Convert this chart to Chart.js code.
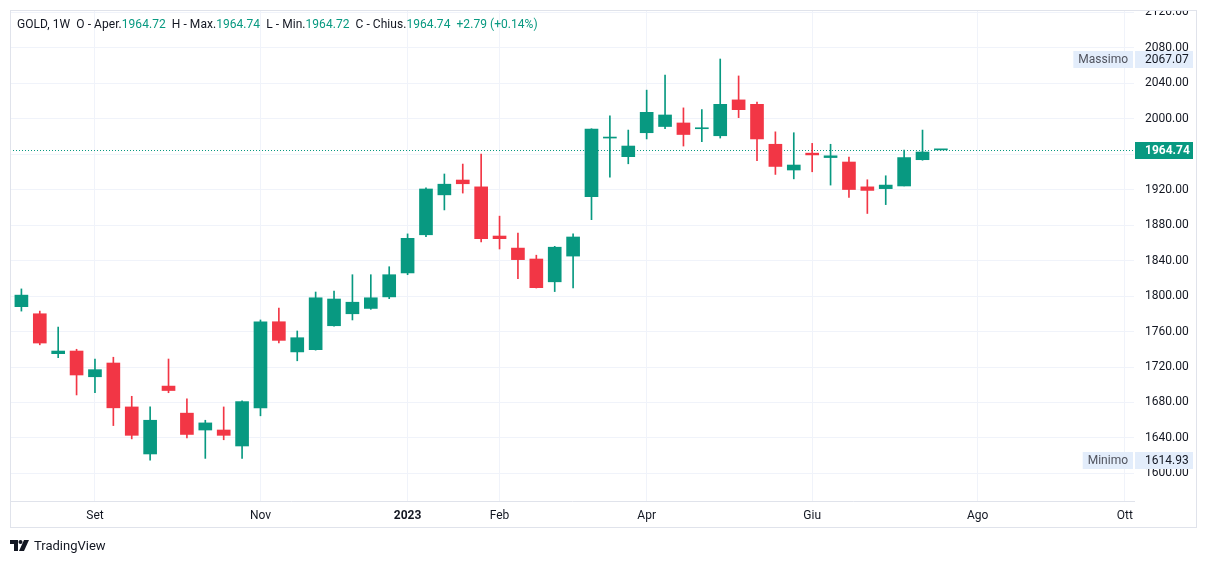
<!DOCTYPE html>
<html>
<head>
<meta charset="utf-8">
<script src="https://cdn.jsdelivr.net/npm/chart.js@4/dist/chart.umd.min.js"></script>
<style>
  html, body { margin: 0; padding: 0; background: #fff; }
  #wrap { position: relative; width: 1209px; height: 564px; }
  #legend {
    position: absolute; left: 17px; top: 17px;
    font: 12px Roboto, sans-serif; color: #131722; white-space: pre;
    letter-spacing: 0.05px;
  }
  #legend .v { color: #089981; }
  #brand {
    position: absolute; left: 10px; top: 538px;
    font: 13px Roboto, sans-serif; color: #131722;
    display: flex; align-items: center;
  }
  #brand svg { margin-right: 5px; }
</style>
</head>
<body>
<div id="wrap">
  <canvas id="chart" width="1209" height="564"></canvas>
  <div id="legend">GOLD, 1W  O - Aper.<span class="v">1964.72</span>  H - Max.<span class="v">1964.74</span>  L - Min.<span class="v">1964.72</span>  C - Chius.<span class="v">1964.74</span>  <span class="v">+2.79 (+0.14%)</span></div>
  <div id="brand">
    <svg width="19" height="11" viewBox="0 0 19 11">
      <path d="M0 0h8v11H4V4H0z" fill="#131722"/>
      <circle cx="10.5" cy="2" r="2" fill="#131722"/>
      <path d="M14 0h5l-5 11H9z" fill="#131722"/>
    </svg>
    <span>TradingView</span>
  </div>
</div>
<script>
// weekly bars, GOLD 1W (week start dates)
const weeks = [
  '2022-08-08', '2022-08-15', '2022-08-22', '2022-08-29', '2022-09-05', '2022-09-12',
  '2022-09-19', '2022-09-26', '2022-10-03', '2022-10-10', '2022-10-17', '2022-10-24',
  '2022-10-31', '2022-11-07', '2022-11-14', '2022-11-21', '2022-11-28', '2022-12-05',
  '2022-12-12', '2022-12-19', '2022-12-26', '2023-01-02', '2023-01-09', '2023-01-16',
  '2023-01-23', '2023-01-30', '2023-02-06', '2023-02-13', '2023-02-20', '2023-02-27',
  '2023-03-06', '2023-03-13', '2023-03-20', '2023-03-27', '2023-04-03', '2023-04-10',
  '2023-04-17', '2023-04-24', '2023-05-01', '2023-05-08', '2023-05-15', '2023-05-22',
  '2023-05-29', '2023-06-05', '2023-06-12', '2023-06-19', '2023-06-26', '2023-07-03',
  '2023-07-10', '2023-07-17', '2023-07-24',
];

const opens = [
  1788, 1780, 1735, 1738, 1709, 1724.5, 1675, 1622, 1698.5, 1668, 1649, 1649,
  1631, 1674, 1771, 1737, 1739.5, 1766.5, 1780, 1786, 1799, 1826, 1869, 1914,
  1930.7, 1923, 1867.6, 1854, 1841.7, 1816, 1845, 1912, 1978, 1957, 1984, 1991,
  1995, 1988.5, 1980.6, 2021, 2016, 1971, 1942, 1961, 1956, 1951, 1923, 1921,
  1924, 1953.6, 1964.72,
];
const highs = [
  1808, 1783, 1765, 1740, 1729, 1731, 1687, 1675, 1729, 1684, 1660, 1675,
  1682, 1773, 1786.5, 1760.6, 1804.5, 1805.6, 1824, 1824, 1833, 1870, 1922, 1937.5,
  1948.7, 1960, 1890, 1871, 1846, 1856, 1870, 1988.5, 2003, 1987, 2032, 2049,
  2012, 2010, 2067.07, 2048, 2018.6, 1985, 1984, 1972, 1971, 1956.6, 1931, 1935.5,
  1964.5, 1987, 1964.74,
];
const lows = [
  1783, 1745, 1730.5, 1688.5, 1691, 1654, 1639, 1614.93, 1691, 1640, 1617, 1638,
  1617, 1665, 1747, 1727, 1739, 1766, 1773, 1785, 1797, 1824, 1867, 1897,
  1916, 1861, 1853, 1819.5, 1809, 1805, 1809, 1886, 1934, 1949, 1977, 1988.5,
  1969, 1974, 1978, 2001, 1952.5, 1937, 1932, 1940, 1925, 1911, 1893, 1903,
  1924, 1953, 1964.72,
];
const closes = [
  1801, 1747, 1738, 1711, 1717, 1674, 1643, 1660, 1693.5, 1644, 1657, 1643,
  1681, 1771, 1750, 1753, 1798, 1796.6, 1793, 1798, 1824, 1865, 1920.6, 1926,
  1926.5, 1864.6, 1864.6, 1841, 1809.4, 1855, 1866.5, 1988, 1979, 1969, 2007, 2004,
  1982, 1989.5, 2016, 2010, 1977, 1946, 1947.6, 1959, 1958, 1920, 1919, 1925,
  1956, 1962.3, 1964.74,
];

// time axis: bar index of first week of each month shown
const monthTickIdx = [4, 13, 21, 26, 34, 43, 52, 60];
const monthLabels = ['Set', 'Nov', '2023', 'Feb', 'Apr', 'Giu', 'Ago', 'Ott'];

const priceTicks = [1600, 1640, 1680, 1720, 1760, 1800, 1840, 1880, 1920, 1960, 2000, 2040, 2080, 2120];
const highestHigh = 2067.07;
const lowestLow = 1614.93;

const UP = '#089981';
const DOWN = '#F23645';
const GRID = '#F0F3FA';
const BORDER = '#E0E3EB';
const TEXT = '#131722';
const FONT = 'Roboto, sans-serif';

const candleColors = opens.map((o, i) => (closes[i] >= o ? UP : DOWN));
const bodies = opens.map((o, i) => ({ x: i, y: [o, closes[i]] }));
const wicks = lows.map((l, i) => ({ x: i, y: [l, highs[i]] }));

// keep the plot area exactly where the paddings put it
function noOverflow(scale) {
  scale.paddingTop = 0;
  scale.paddingBottom = 0;
  scale.paddingLeft = 0;
  scale.paddingRight = 0;
}

/**
 * Draws frame, last-price line and the price-axis labels on top.
 */
const overlayPlugin = {
  id: 'overlay',
  beforeDatasetsDraw(chart) {
    const { ctx, chartArea } = chart;
    const y = chart.scales.y.getPixelForValue(closes[closes.length - 1]);
    ctx.save();
    ctx.strokeStyle = UP;
    ctx.lineWidth = 1;
    ctx.setLineDash([1, 2]);
    ctx.beginPath();
    ctx.moveTo(chartArea.left, Math.round(y) + 0.5);
    ctx.lineTo(chartArea.right, Math.round(y) + 0.5);
    ctx.stroke();
    ctx.restore();
  },
  afterDraw(chart) {
    const { ctx, chartArea } = chart;
    const yScale = chart.scales.y;
    const xScale = chart.scales.x;

    ctx.save();
    // hide label overflow above the pane
    ctx.fillStyle = '#fff';
    ctx.fillRect(chartArea.left, 0, yScale.right - chartArea.left, chartArea.top);

    const boxX = yScale.left + 1;
    const boxW = 58;
    const drawTag = (value, bg, fg, bold, side) => {
      const y = Math.round(yScale.getPixelForValue(value));
      ctx.fillStyle = bg;
      ctx.fillRect(boxX, y - 8, boxW, 17);
      ctx.fillStyle = fg;
      ctx.font = (bold ? 'bold ' : '') + '12px ' + FONT;
      ctx.textBaseline = 'middle';
      ctx.textAlign = 'left';
      ctx.fillText(value.toFixed(2), yScale.left + 11, y + 1);
      if (side) {
        ctx.font = '12px ' + FONT;
        const w = ctx.measureText(side).width + 10;
        ctx.fillStyle = bg;
        ctx.fillRect(boxX - 2 - w, y - 8, w, 17);
        ctx.fillStyle = '#50535E';
        ctx.fillText(side, boxX - 2 - w + 5, y + 1);
      }
    };
    drawTag(highestHigh, '#E3EDFB', TEXT, false, 'Massimo');
    drawTag(lowestLow, '#E3EDFB', TEXT, false, 'Minimo');
    drawTag(closes[closes.length - 1], UP, '#fff', true, null);

    // outer frame
    ctx.strokeStyle = BORDER;
    ctx.lineWidth = 1;
    ctx.strokeRect(chartArea.left + 0.5, chartArea.top + 0.5,
      yScale.right - chartArea.left - 1, xScale.bottom - chartArea.top - 1);
    ctx.restore();
  },
};

new Chart(document.getElementById('chart'), {
  type: 'bar',
  data: {
    datasets: [
      {
        label: 'body',
        data: bodies,
        backgroundColor: candleColors,
        barThickness: 13,
        minBarLength: 1,
        grouped: false,
        borderWidth: 0,
      },
      {
        label: 'wick',
        data: wicks,
        backgroundColor: candleColors,
        barThickness: 1,
        grouped: false,
        borderWidth: 0,
      },
    ],
  },
  options: {
    responsive: false,
    animation: false,
    layout: { padding: { left: 10, top: 10, right: 12, bottom: 36 } },
    plugins: {
      legend: { display: false },
      tooltip: { enabled: false },
    },
    scales: {
      x: {
        type: 'linear',
        offset: false,
        min: -0.62,
        max: 60.5,
        afterBuildTicks: (scale) => {
          scale.ticks = monthTickIdx.map((v) => ({ value: v }));
        },
        afterFit: (scale) => { scale.height = 27; noOverflow(scale); },
        grid: { color: GRID, drawTicks: false, offset: false },
        border: { display: true, color: BORDER },
        ticks: {
          autoSkip: false,
          maxRotation: 0,
          padding: 8,
          color: TEXT,
          font: (ctx) => ({
            family: FONT,
            size: 12,
            weight: ctx.tick && ctx.tick.label === '2023' ? 'bold' : 'normal',
          }),
          callback: (v) => monthLabels[monthTickIdx.indexOf(v)],
        },
      },
      y: {
        position: 'right',
        min: 1569,
        max: 2122.3,
        afterBuildTicks: (scale) => {
          scale.ticks = priceTicks.map((v) => ({ value: v }));
        },
        afterFit: (scale) => { scale.width = 63; noOverflow(scale); },
        grid: { color: GRID, drawTicks: false },
        border: { display: false },
        ticks: {
          padding: 11,
          color: TEXT,
          font: { family: FONT, size: 12 },
          callback: (v) => v.toFixed(2),
        },
      },
    },
  },
  plugins: [overlayPlugin],
});
</script>
</body>
</html>
